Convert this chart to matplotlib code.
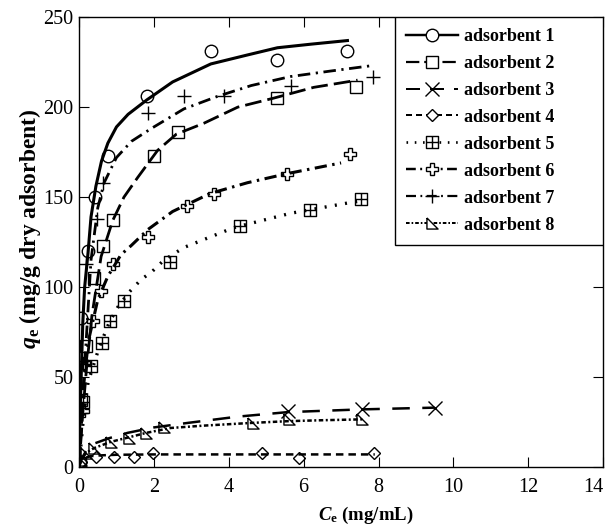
import matplotlib
matplotlib.use('Agg')
import matplotlib.pyplot as plt
from matplotlib.path import Path
from matplotlib.patches import Rectangle

plt.rcParams['font.family'] = 'Liberation Serif'
plt.rcParams['mathtext.fontset'] = 'custom'
plt.rcParams['mathtext.rm'] = 'Liberation Serif'
plt.rcParams['mathtext.it'] = 'Liberation Serif:italic'
plt.rcParams['mathtext.bf'] = 'Liberation Serif:bold'
try:
    plt.rcParams['mathtext.bfit'] = 'Liberation Serif:italic:bold'
    bfit = r'\mathbfit'
except KeyError:
    bfit = r'\mathbf'

labels = ['adsorbent 1', 'adsorbent 2', 'adsorbent 3', 'adsorbent 4',
          'adsorbent 5', 'adsorbent 6', 'adsorbent 7', 'adsorbent 8']

# measured points (Ce, qe)
c1 = [0.02, 0.05, 0.24, 0.43, 0.77, 1.81, 3.52, 5.3, 7.17]
q1 = [3, 83, 120, 150, 173, 206, 231, 226, 231]
c2 = [0.02, 0.05, 0.19, 0.4, 0.64, 0.9, 2.0, 2.65, 5.28, 7.4]
q2 = [2, 37, 67, 105, 123, 137, 173, 186, 205, 211]
c3 = [5.57, 7.57, 9.52]
q3 = [31, 32, 33]
c4 = [0.05, 0.45, 0.93, 1.47, 1.97, 4.9, 5.87, 7.87]
q4 = [3, 5.3, 5.5, 5.5, 7.8, 7.8, 5, 7.8]
c5 = [0.1, 0.32, 0.62, 0.83, 1.2, 2.43, 4.3, 6.16, 7.52]
q5 = [36, 56, 69, 81, 92, 114, 134, 143, 149]
c6 = [0.1, 0.13, 0.37, 0.59, 0.9, 1.84, 2.88, 3.6, 5.55, 7.23]
q6 = [31, 58, 81, 98, 113, 128, 145, 152, 163, 174]
c7 = [0.05, 0.1, 0.19, 0.47, 0.64, 1.84, 2.8, 3.87, 5.65, 7.84]
q7 = [30, 57, 113, 138, 158, 197, 206, 206, 212, 217]
c8 = [0.05, 0.19, 0.4, 0.85, 1.33, 1.79, 2.27, 4.64, 5.6, 7.57]
q8 = [4, 8, 10.5, 14, 16, 19, 22, 24.4, 26.7, 26.7]

# fitted curves
fc1 = [0, 0.02, 0.05, 0.1, 0.15, 0.24, 0.32, 0.45, 0.6, 0.77, 1.0, 1.31, 1.81, 2.5, 3.52, 4.5, 5.3, 6.2, 7.17]
fq1 = [0, 25, 45, 80, 100, 119, 139, 156, 170, 180, 189, 196, 204, 214, 224, 229, 233, 235, 237]
fc2 = [0, 0.05, 0.1, 0.2, 0.35, 0.59, 0.9, 1.2, 1.57, 2.1, 2.6, 3.33, 4.24, 5.2, 6.27, 7.44]
fq2 = [0, 15, 30, 55, 85, 117, 137, 150, 161, 176, 185, 191, 200, 205, 211, 215]
fc3 = [0, 0.05, 0.19, 0.4, 0.8, 1.3, 2.0, 2.9, 4.24, 5.57, 7.5, 9.5]
fq3 = [0, 4, 9, 13, 16, 19, 22, 24.5, 28, 30.5, 32, 33]
fc4 = [0, 0.05, 0.15, 0.3, 0.6, 1, 2, 4, 6, 7.9]
fq4 = [0, 3, 5, 6, 6.5, 6.8, 7, 7, 7, 7]
fc5 = [0, 0.05, 0.12, 0.24, 0.53, 0.8, 1.04, 1.33, 1.65, 1.97, 2.27, 2.8, 4.13, 5.65, 7.25, 7.6]
fq5 = [0, 12, 28, 47, 66, 80, 89, 97, 104, 109, 115, 122, 133, 141, 147, 148]
fc6 = [0, 0.05, 0.12, 0.25, 0.5, 0.77, 1.12, 1.39, 1.84, 2.5, 3.5, 4.5, 5.55, 7.0]
fq6 = [0, 20, 45, 70, 93, 106, 118, 123, 132, 142, 152, 158, 163, 169]
fc7 = [0, 0.05, 0.1, 0.19, 0.32, 0.5, 0.67, 1.0, 1.4, 1.92, 2.8, 3.7, 4.6, 5.65, 6.7, 7.8]
fq7 = [0, 20, 40, 70, 115, 144, 158, 172, 181, 188, 199, 206, 212, 217, 220, 223]
fc8 = [0, 0.05, 0.2, 0.4, 0.85, 1.33, 1.8, 2.45, 3.33, 4.6, 5.6, 6.5, 7.6]
fq8 = [0, 4, 8, 10.5, 14, 16.5, 19, 21.7, 23, 24.5, 25.5, 26, 26.5]

# custom markers
box_plus = Path([(-1, -1), (1, -1), (1, 1), (-1, 1), (-1, -1),
                 (0, -1), (0, 1), (-1, 0), (1, 0)],
                [Path.MOVETO, Path.LINETO, Path.LINETO, Path.LINETO, Path.CLOSEPOLY,
                 Path.MOVETO, Path.LINETO, Path.MOVETO, Path.LINETO])
right_tri = [(-1, 1), (-1, -1), (1, -1), (-1, 1)]

points = [(c1, q1), (c2, q2), (c3, q3), (c4, q4), (c5, q5), (c6, q6), (c7, q7), (c8, q8)]
fits = [(fc1, fq1), (fc2, fq2), (fc3, fq3), (fc4, fq4), (fc5, fq5), (fc6, fq6), (fc7, fq7), (fc8, fq8)]
markers = ['o', 's', 'x', 'D', box_plus, 'P', '+', right_tri]
msizes = [9, 8, 10, 6, 8, 9, 10, 8]
dashes = [None, (6, 2.2), (7, 5), (3, 2), (0.6, 2.5), (4, 1.8, 0.8, 1.8), (4.5, 2, 0.8, 2), (1.8, 1, 0.8, 1)]
lws = [2.2, 2.0, 1.8, 1.8, 2.4, 2.2, 2.0, 1.8]

fig = plt.figure(figsize=(6.08, 5.28), dpi=100)
ax = fig.add_axes([0.130, 0.1155, 0.862, 0.852])

for i in range(8):
    fx, fy = fits[i]
    px, py = points[i]
    line, = ax.plot(fx, fy, color='black', lw=lws[i])
    if dashes[i] is not None:
        line.set_dashes(dashes[i])
    ax.plot(px, py, linestyle='none', marker=markers[i], markersize=msizes[i],
            markerfacecolor='none', markeredgecolor='black', markeredgewidth=1.0)

# legend handles: line + marker
handles = []
for i in range(8):
    h, = ax.plot([], [], color='black', lw=lws[i] * 0.8, marker=markers[i], markersize=msizes[i],
                 markerfacecolor='white', markeredgecolor='black', markeredgewidth=1.0)
    if dashes[i] is not None:
        h.set_dashes(dashes[i])
    handles.append(h)

# legend frame is wider than its contents in the original
ax.add_patch(Rectangle((0.603, 0.493), 0.397, 0.507, transform=ax.transAxes,
                       facecolor='white', edgecolor='black', lw=1.0, zorder=4))
leg = ax.legend(handles, labels, loc='upper left', bbox_to_anchor=(0.603, 1),
                borderaxespad=0, frameon=False,
                prop={'family': 'Liberation Serif', 'weight': 'bold', 'size': 13},
                handlelength=2.9, handletextpad=0.3, labelspacing=0.55, borderpad=0.6)
leg.set_zorder(5)

ax.set_xlim(0, 14)
ax.set_ylim(0, 250)
ax.set_xticks(range(0, 15, 2))
ax.set_yticks(range(0, 251, 50))
ax.tick_params(direction='in', top=True, right=True, length=7, labelsize=14.5)
ax.tick_params(axis='x', pad=8)
ax.tick_params(axis='y', pad=4)
ax.get_xticklabels()[-1].set_ha('right')
for s in ax.spines.values():
    s.set_linewidth(1.0)

ax.set_xlabel('$' + bfit + '{C}_{\\mathbf{e}}$ (mg/mL)', fontsize=13.5, fontweight='bold')
ax.set_ylabel('$' + bfit + '{q}_{\\mathbf{e}}$ (mg/g dry adsorbent)', fontsize=17, fontweight='bold')
ax.xaxis.set_label_coords(0.548, -0.085)
ax.yaxis.set_label_coords(-0.068, 0.53)

fig.savefig('out.png', dpi=100)
